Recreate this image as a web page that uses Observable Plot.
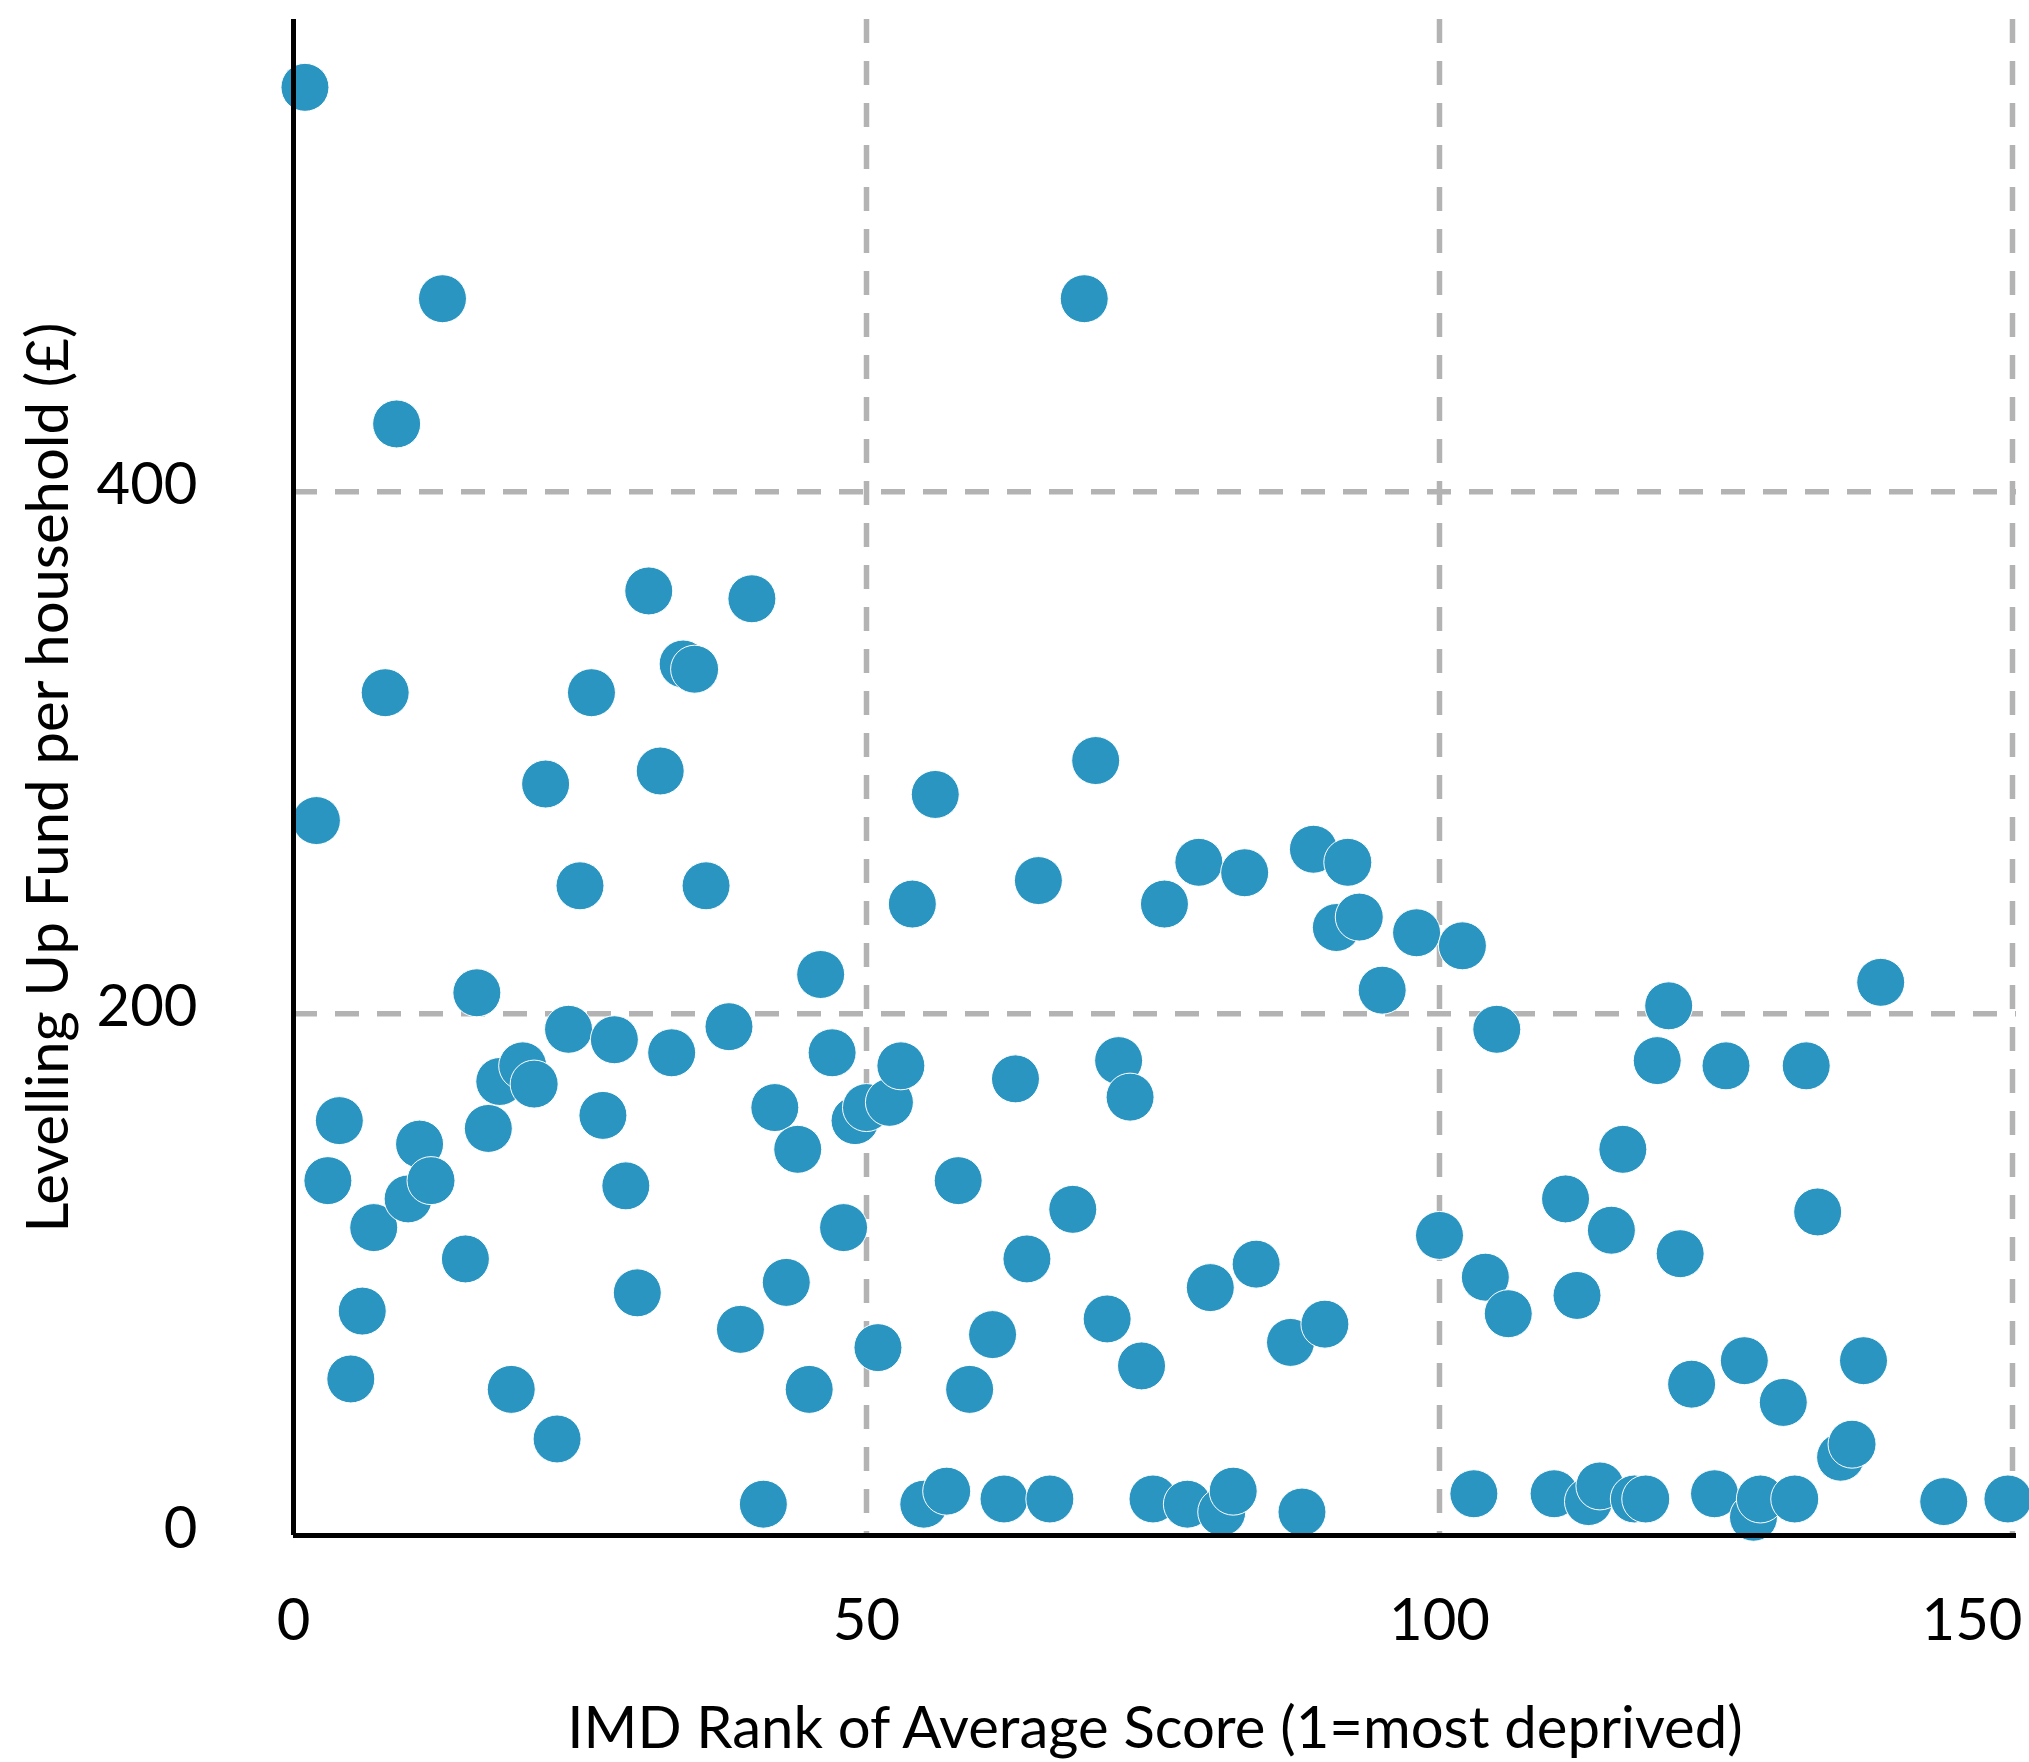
<!DOCTYPE html>
<html>
<head>
<meta charset="utf-8">
<script src="https://cdn.jsdelivr.net/npm/d3@7"></script>
<script src="https://cdn.jsdelivr.net/npm/@observablehq/plot@0.6"></script>
<style>
  html, body { margin: 0; padding: 0; background: #ffffff; }
  #chart { width: 2029px; height: 1762px; }
</style>
</head>
<body>
<div id="chart"></div>
<script>
// IMD rank of average score (1 = most deprived)
const imdRank = [
  1, 2, 3, 4, 5, 6, 7, 8, 9, 10,
  11, 12, 13, 15, 16, 17, 18, 19, 20, 21,
  22, 23, 24, 25, 26, 27, 28, 29, 30, 31,
  32, 33, 34, 35, 36, 38, 39, 40, 41, 42,
  43, 44, 45, 46, 47, 48, 49, 50, 51, 52,
  53, 54, 55, 56, 57, 58, 59, 61, 62, 63,
  64, 65, 66, 68, 69, 70, 71, 72, 73, 74,
  75, 76, 78, 79, 80, 81, 82, 83, 84, 87,
  88, 89, 90, 91, 92, 93, 95, 98, 100, 102,
  103, 104, 105, 106, 110, 111, 112, 113, 114, 115,
  116, 117, 118, 119, 120, 121, 122, 124, 125, 126.6,
  127.4, 128, 130, 131, 132, 133, 135, 136, 137, 138.5,
  144, 149.6
];
// Levelling Up Fund per household (£)
const fundPerHousehold = [
  555, 274, 136, 159, 60, 86, 118, 323, 426, 129,
  150, 136, 474, 106, 208, 156, 174, 56, 180, 173,
  288, 37, 194, 249, 323, 161, 190, 134, 93, 362,
  293, 185, 334, 332, 249, 195, 79, 359, 12, 164,
  97, 148, 56, 215, 185, 118, 159, 164, 72, 166,
  180, 242, 12, 284, 17, 136, 56, 77, 14, 175,
  106, 251, 14, 125, 474, 297, 83, 182, 168, 65,
  14, 242, 12, 258, 95, 9, 17, 254, 104, 74,
  9, 263, 81, 233, 258, 237, 209, 231, 115, 226,
  16, 99, 194, 85, 16, 129, 92, 13, 19, 117,
  148, 14, 14, 182, 203, 108, 58, 16, 180, 67,
  7, 14, 51, 14, 180, 124, 30, 35, 67, 212,
  13, 14
];
const xTicks = [0, 50, 100];
const xLastTick = [150];
const yTicks = [0, 200, 400];
const xGrid = [50, 100, 150];
const yGrid = [200, 400];
const xLabel = ["IMD Rank of Average Score (1=most deprived)"];
const yLabel = ["Levelling Up Fund per household (£)"];

const data = imdRank.map((x, i) => ({rank: x, fund: fundPerHousehold[i]}));

const W = 2029, H = 1762;
const FS = 58;
const gridStyle = {stroke: "#b3b3b3", strokeWidth: 5.5, strokeDasharray: "24,18"};

const chart = Plot.plot({
  width: W,
  height: H,
  marginLeft: 293,
  marginRight: 13,
  marginTop: 19,
  marginBottom: 227,
  style: {fontFamily: "Lato, 'Open Sans', sans-serif", fontSize: FS + "px", color: "#000", background: "#fff"},
  x: {domain: [0, 150.35]},
  y: {domain: [0, 581]},
  marks: [
    Plot.ruleX(xGrid, gridStyle),
    Plot.ruleY(yGrid, gridStyle),
    Plot.dot(data, {x: "rank", y: "fund", r: 24, fill: "#2b95c2", stroke: "#ffffff", strokeWidth: 1}),
    Plot.ruleX([0], {stroke: "#000", strokeWidth: 5}),
    Plot.ruleY([0], {stroke: "#000", strokeWidth: 5}),
    Plot.axisY(yTicks, {tickSize: 0, tickPadding: 96, dy: -6, fontSize: FS, label: null, fill: "#000"}),
    Plot.axisX(xTicks, {tickSize: 0, tickPadding: 63, fontSize: FS, label: null, fill: "#000"}),
    Plot.axisX(xLastTick, {tickSize: 0, tickPadding: 63, fontSize: FS, label: null, fill: "#000", textAnchor: "end", dx: 10}),
    Plot.text(xLabel, {text: d => d, frameAnchor: "bottom", dy: 194, lineAnchor: "middle", textAnchor: "middle", fontSize: FS, fill: "#000"}),
    Plot.text(yLabel, {text: d => d, frameAnchor: "left", rotate: -90, dx: -244, lineAnchor: "middle", textAnchor: "middle", fontSize: FS, fill: "#000"})
  ]
});
document.getElementById("chart").appendChild(chart);
</script>
</body>
</html>
